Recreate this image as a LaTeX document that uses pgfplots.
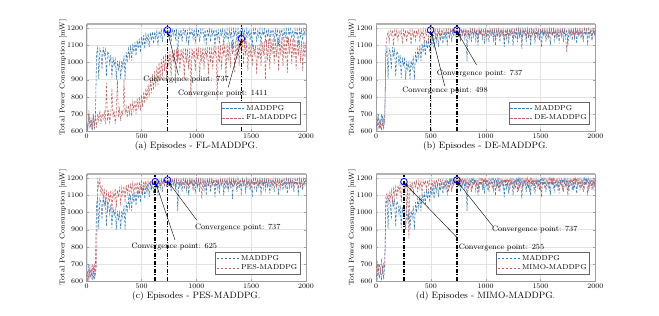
\documentclass[border=0pt]{standalone}
\usepackage{pgfplots}
\pgfplotsset{compat=1.18}
\usepackage{pgfplotstable}
\usetikzlibrary{arrows.meta}

\definecolor{cblue}{RGB}{55,122,185}
\definecolor{cred}{RGB}{192,98,98}

\pgfplotstableread{
x m fl de pes mimo
0 640 650 640 620 650
10 612 610 680 660 720
20 700 720 620 605 630
30 615 620 660 680 700
40 660 680 615 625 660
50 605 605 700 700 730
60 690 700 630 610 640
70 610 630 670 690 700
80 700 690 650 640 680
90 1050 620 1100 700 1100
100 1085 700 1150 1200 1110
110 905 660 1180 1150 1060
120 1080 720 1120 1195 1120
130 1060 640 1185 1100 1080
140 960 700 1160 1160 1130
150 1090 670 1190 1080 1050
160 1040 710 1100 1140 1140
170 1075 640 1185 1050 1100
180 920 880 1150 1130 1150
190 1065 660 1190 1000 1080
200 1050 720 1130 1120 1160
210 990 650 1185 1060 1120
220 1045 700 1165 1130 1165
230 910 850 1190 1010 1060
240 1030 680 1110 1120 1170
250 980 720 1188 1080 1178
260 1020 640 1150 1140 1130
270 900 710 1190 1030 1175
280 1010 900 1120 1130 1000
290 960 680 1188 1090 1178
300 1000 730 1160 1150 850
310 905 660 1190 1040 1180
320 1010 720 1105 1145 1120
330 970 690 1188 1100 1182
340 1040 900 1150 1155 1100
350 900 700 1190 1060 1183
360 1060 740 1130 1160 1150
370 1000 680 1188 1110 1184
380 1080 750 1160 1165 1120
390 1030 700 1192 1080 1185
400 1100 760 1120 1170 1140
410 1010 690 1190 1120 1186
420 1110 770 1150 1172 1110
430 1060 720 1192 1100 1186
440 1120 780 1110 1175 1160
450 1040 700 1190 1130 1187
460 1130 790 1160 1178 1130
470 1080 730 1192 1110 1188
480 1140 800 1130 1180 1160
490 1060 720 1190 1140 1188
500 1150 810 1193 1182 1120
510 1100 740 1150 1120 1189
520 1160 830 1192 1183 1150
530 1080 760 1170 1150 1190
540 1165 850 1194 1185 1140
550 1120 780 1130 1130 1190
560 1170 870 1193 1186 1165
570 1090 800 1165 1160 1191
580 1175 900 1194 1187 1130
590 1130 820 1140 1140 1191
600 1180 930 1193 1188 1170
610 1110 840 1175 1165 1192
620 1180 950 1195 1188 1140
630 1140 860 1150 1150 1192
640 1185 980 1193 1190 1160
650 1100 870 1170 1170 1193
660 1185 1000 1195 1190 1120
670 1150 900 1140 1140 1193
680 1190 1020 1193 1192 1165
690 1120 920 1175 1165 1193
700 1190 1040 1195 1192 1150
710 1160 950 1160 1160 1194
720 1192 1050 1194 1193 1170
730 1170 900 1150 1145 1194
740 1195 1060 1195 1194 1130
750 1150 980 1165 1170 1195
760 1192 1065 1194 1194 1165
770 1120 920 1140 1150 1195
780 1195 1070 1195 1195 1140
790 1160 1000 1170 1165 1195
800 1193 1075 1194 1194 1170
810 1140 880 1150 1140 1195
820 1195 1080 1195 1195 1150
830 1010 1000 1160 1170 1195
840 1190 1078 1194 1194 1125
850 1150 950 1130 1150 1195
860 1195 1080 1195 1195 1170
870 1120 1020 1170 1160 1195
880 1193 1082 1194 1194 1140
890 1165 900 1150 1135 1195
900 1195 1085 1195 1195 1165
910 1130 1000 1165 1165 1195
920 1192 1080 1194 1194 1150
930 1100 960 1140 1150 1195
940 1195 1083 1195 1195 1120
950 1160 800 1170 1170 1195
960 1193 1085 1194 1194 1160
970 1140 1030 1150 1140 1195
980 1195 1082 1195 1195 1145
990 1110 950 1160 1165 1195
1000 1192 1085 1194 1194 1170
1010 1150 1020 1135 1150 1195
1020 1195 1088 1195 1195 1130
1030 1120 900 1170 1160 1195
1040 1193 1085 1194 1194 1160
1050 1170 1000 1150 1080 1195
1060 1195 1090 1195 1195 1140
1070 1130 960 1165 1165 1195
1080 1192 1088 1194 1194 1170
1090 1100 1030 1140 1150 1195
1100 1195 1090 1195 1195 1150
1110 1150 930 1170 1170 1195
1120 1193 1092 1194 1194 1125
1130 1120 1000 1155 1140 1195
1140 1195 1090 1195 1195 1165
1150 1160 960 1165 1165 1195
1160 1192 1095 1194 1194 1140
1170 1090 1040 1130 1150 1195
1180 1195 1093 1195 1195 1170
1190 1140 780 1170 1170 1195
1200 1193 1098 1194 1194 1150
1210 1110 1000 1150 1145 1195
1220 1195 1100 1195 1195 1130
1230 1160 960 1165 1165 1195
1240 1192 1105 1194 1194 1160
1250 1100 1040 1140 1150 1195
1260 1195 1110 1195 1195 1145
1270 1140 900 1170 1170 1195
1280 1193 1115 1194 1194 1170
1290 1120 1010 1150 1140 1195
1300 1195 1120 1195 1195 1125
1310 1150 970 1165 1165 1195
1320 1192 1122 1194 1194 1160
1330 1080 1050 1135 1150 1195
1340 1195 1125 1195 1195 1140
1350 1160 940 1170 1170 1195
1360 1193 1130 1194 1194 1170
1370 1120 1020 1150 1145 1195
1380 1195 1133 1195 1195 1150
1390 1140 980 1165 1165 1195
1400 1192 1136 1194 1194 1120
1410 1100 1060 1140 1150 1195
1420 1195 1140 1195 1195 1165
1430 1160 990 1170 1170 1195
1440 1193 1135 1194 1194 1140
1450 1110 1040 1150 1140 1195
1460 1195 1128 1195 1195 1170
1470 1150 950 1160 1165 1195
1480 1192 1120 1194 1194 1150
1490 1130 1030 1130 1150 1195
1500 1195 1110 1195 1195 1130
1510 1090 980 1170 1170 1195
1520 1193 1105 1194 1194 1160
1530 1160 1050 1150 1145 1195
1540 1195 1100 1195 1195 1140
1550 1120 930 1165 1165 1195
1560 1192 1102 1194 1194 1170
1570 1150 1020 1140 1150 1195
1580 1195 1110 1195 1195 1125
1590 1100 980 1170 1170 1195
1600 1193 1118 1194 1194 1165
1610 1160 1040 1155 1140 1195
1620 1195 1125 1195 1195 1145
1630 1130 900 1165 1165 1195
1640 1192 1130 1194 1194 1170
1650 1150 1010 1135 1150 1195
1660 1195 1135 1195 1195 1130
1670 1110 960 1170 1170 1195
1680 1193 1138 1194 1194 1160
1690 1160 1050 1150 1145 1195
1700 1195 1140 1195 1195 1140
1710 1120 990 1165 1165 1195
1720 1192 1142 1194 1194 1170
1730 1150 1030 1140 1150 1195
1740 1195 1145 1060 1195 1150
1750 1100 950 1170 1170 1195
1760 1193 1148 1194 1194 1125
1770 1160 1040 1150 1140 1195
1780 1195 1150 1195 1195 1165
1790 1130 980 1165 1165 1195
1800 1192 1150 1194 1194 1140
1810 1150 1020 1140 1150 1195
1820 1195 1148 1195 1195 1170
1830 1110 940 1170 1170 1195
1840 1193 1145 1194 1194 1150
1850 1160 1050 1150 1145 1195
1860 1195 1140 1195 1195 1130
1870 1140 990 1165 1165 1195
1880 1192 1138 1194 1194 1160
1890 1120 1030 1135 1150 1195
1900 1195 1135 1195 1195 1145
1910 1160 960 1170 1170 1195
1920 1193 1132 1194 1194 1170
1930 1100 1040 1150 1140 1195
1940 1195 1130 1195 1195 1125
1950 1150 1000 1165 1165 1195
1960 1192 1128 1194 1194 1160
1970 1130 950 1140 1150 1195
1980 1195 1125 1195 1195 1140
1990 1160 1030 1170 1170 1195
2000 1193 1122 1194 1194 1110
}\data

\tikzset{
  arr/.style={-{Stealth[length=4pt,width=3pt]}, line width=0.4pt, black},
  ann/.style={font=\fontsize{7.8}{9}\selectfont, inner sep=0.5pt},
}

\pgfplotsset{
  panel/.style={
    scale only axis, width=219.3pt, height=107pt, anchor=south west,
    xmin=0, xmax=2000, ymin=600, ymax=1225,
    xtick={0,500,1000,1500,2000}, ytick={600,700,...,1200},
    /pgf/number format/1000 sep={},
    grid=major, grid style={gray!22, line width=0.3pt},
    axis line style={gray!75, line width=0.5pt}, tick style={gray!75},
    tick align=inside, major tick length=2pt,
    ticklabel style={font=\fontsize{7.2}{8}\selectfont},
    xticklabel style={yshift=1pt},
    xlabel style={font=\fontsize{9.2}{10}\selectfont, yshift=3pt},
    ylabel style={font=\fontsize{7.2}{8}\selectfont, yshift=-6pt},
    ylabel={Total Power Consumption [mW]},
    legend style={font=\fontsize{7.2}{8}\selectfont, at={(0.975,0.06)}, anchor=south east,
      draw=black!60, line width=0.4pt, fill=white, inner sep=1pt, row sep=-1pt},
    legend cell align=left,
    legend image code/.code={\draw[#1] (0pt,0pt) -- (22pt,0pt);},
    after end axis/.code={\draw[gray!60, line width=1.3pt] (rel axis cs:0,1) -- (rel axis cs:1,1);},
  },
  mblue/.style={cblue, line width=0.55pt, dash pattern=on 2.5pt off 1.5pt},
  mred/.style={cred, line width=0.55pt, dash pattern=on 2.5pt off 1.5pt},
  vline/.style={black, line width=1.6pt, dash pattern=on 4pt off 1.5pt on 1pt off 1.5pt, forget plot},
  circ/.style={only marks, mark=o, mark size=3.3pt, blue, mark options={line width=0.8pt}, forget plot},
}

\begin{document}
\begin{tikzpicture}
\useasboundingbox (0,0) rectangle (659pt,316pt);

% (a)
\begin{axis}[panel, at={(86.7pt,185pt)}, xlabel={(a) Episodes - FL-MADDPG.}]
\addplot[mblue] table[x=x,y=m]{\data}; \addlegendentry{MADDPG}
\addplot[mred] table[x=x,y=fl]{\data}; \addlegendentry{FL-MADDPG}
\addplot[vline] coordinates {(737,600) (737,1225)};
\addplot[vline] coordinates {(1411,600) (1411,1225)};
\addplot[circ] coordinates {(737,1190) (1411,1140)};
\draw[arr] (axis cs:836,927) -- (axis cs:742,1172);
\draw[arr] (axis cs:1291,855) -- (axis cs:1405,1120);
\node[ann] at (axis cs:907,898) {Convergence point: 737};
\node[ann] at (axis cs:1241,816) {Convergence point: 1411};
\end{axis}

% (b)
\begin{axis}[panel, at={(376pt,185pt)}, xlabel={(b) Episodes - DE-MADDPG.}]
\addplot[mblue] table[x=x,y=m]{\data}; \addlegendentry{MADDPG}
\addplot[mred] table[x=x,y=de]{\data}; \addlegendentry{DE-MADDPG}
\addplot[vline] coordinates {(498,600) (498,1225)};
\addplot[vline] coordinates {(737,600) (737,1225)};
\addplot[circ] coordinates {(498,1190) (737,1190)};
\draw[arr] (axis cs:917,986) -- (axis cs:745,1175);
\draw[arr] (axis cs:627,863) -- (axis cs:505,1175);
\node[ann] at (axis cs:945,933) {Convergence point: 737};
\node[ann] at (axis cs:630,836) {Convergence point: 498};
\end{axis}

% (c)
\begin{axis}[panel, at={(86.7pt,35pt)}, xlabel={(c) Episodes - PES-MADDPG.}]
\addplot[mblue] table[x=x,y=m]{\data}; \addlegendentry{MADDPG}
\addplot[mred] table[x=x,y=pes]{\data}; \addlegendentry{PES-MADDPG}
\addplot[vline] coordinates {(625,600) (625,1225)};
\addplot[vline] coordinates {(737,600) (737,1225)};
\addplot[circ] coordinates {(625,1180) (737,1190)};
\draw[arr] (axis cs:1003,956) -- (axis cs:745,1178);
\draw[arr] (axis cs:805,840) -- (axis cs:632,1168);
\node[ann] at (axis cs:1378,914) {Convergence point: 737};
\node[ann] at (axis cs:800,800) {Convergence point: 625};
\end{axis}

% (d)
\begin{axis}[panel, at={(376pt,35pt)}, xlabel={(d) Episodes - MIMO-MADDPG.}]
\addplot[mblue] table[x=x,y=m]{\data}; \addlegendentry{MADDPG}
\addplot[mred] table[x=x,y=mimo]{\data}; \addlegendentry{MIMO-MADDPG}
\addplot[vline] coordinates {(255,600) (255,1225)};
\addplot[vline] coordinates {(737,600) (737,1225)};
\addplot[circ] coordinates {(255,1180) (737,1190)};
\draw[arr] (axis cs:1070,916) -- (axis cs:745,1178);
\draw[arr] (axis cs:740,853) -- (axis cs:262,1170);
\node[ann] at (axis cs:1448,898) {Convergence point: 737};
\node[ann] at (axis cs:1145,795) {Convergence point: 255};
\end{axis}
\end{tikzpicture}
\end{document}
